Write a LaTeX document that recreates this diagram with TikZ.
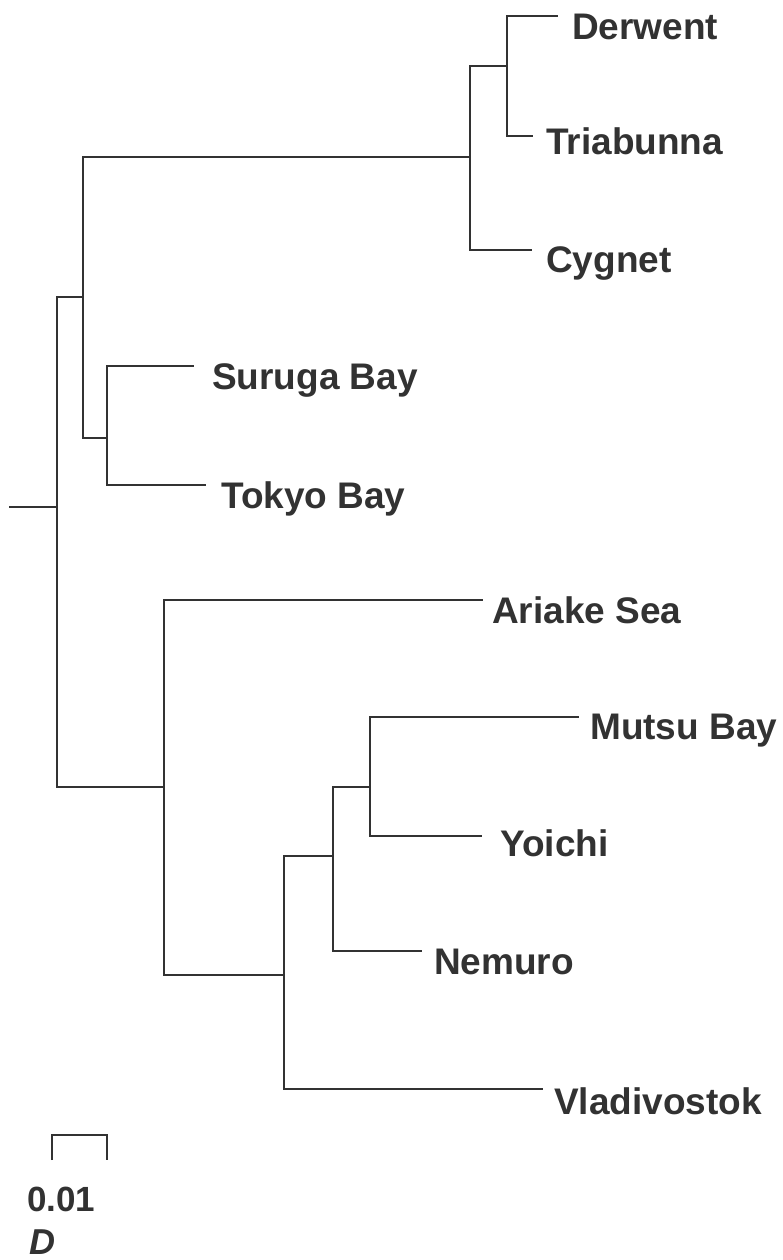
\documentclass[tikz,border=0pt]{standalone}
\usepackage{fontspec}
\setmainfont{Liberation Sans}
\definecolor{ink}{RGB}{50,50,50}
\begin{document}
\begin{tikzpicture}[x=1pt,y=-1pt,
  branch/.style={draw=ink,line width=2.4pt,line cap=rect},
  taxon/.style={anchor=base west,inner sep=0pt,text=ink,
    font=\fontsize{37}{42}\selectfont\bfseries}]
\useasboundingbox (0,0) rectangle (782,1260);

% internal nodes
\coordinate (stub) at (10,507);
\coordinate (root) at (57,507);
\coordinate (nA) at (83,297);
\coordinate (nT) at (470,157);
\coordinate (nDT) at (507,66);
\coordinate (nSJ) at (107,438);
\coordinate (nB) at (164,787);
\coordinate (nC) at (284,975);
\coordinate (nE) at (333,856);
\coordinate (nF) at (370,787);

% branch tips
\coordinate (tDer) at (557,16);
\coordinate (tTri) at (532,136);
\coordinate (tCyg) at (531,250);
\coordinate (tSur) at (193,366);
\coordinate (tTok) at (205,485);
\coordinate (tAri) at (482,600);
\coordinate (tMut) at (578,717);
\coordinate (tYoi) at (481,836);
\coordinate (tNem) at (421,951);
\coordinate (tVla) at (542,1089);

% branches
\draw[branch] (stub) -- (root);
\draw[branch] (root) |- (nA);
\draw[branch] (root) |- (nB);
\draw[branch] (nA) |- (nT);
\draw[branch] (nA) |- (nSJ);
\draw[branch] (nT) |- (nDT);
\draw[branch] (nT) |- (tCyg);
\draw[branch] (nDT) |- (tDer);
\draw[branch] (nDT) |- (tTri);
\draw[branch] (nSJ) |- (tSur);
\draw[branch] (nSJ) |- (tTok);
\draw[branch] (nB) |- (tAri);
\draw[branch] (nB) |- (nC);
\draw[branch] (nC) |- (nE);
\draw[branch] (nC) |- (tVla);
\draw[branch] (nE) |- (nF);
\draw[branch] (nE) |- (tNem);
\draw[branch] (nF) |- (tMut);
\draw[branch] (nF) |- (tYoi);

% taxon labels
\node[taxon] (lDer) at (572,40) {Derwent};
\node[taxon] (lTri) at (546,155) {Triabunna};
\node[taxon] (lCyg) at (546,272) {Cygnet};
\node[taxon] (lSur) at (212,389) {Suruga Bay};
\node[taxon] (lTok) at (221,508) {Tokyo Bay};
\node[taxon] (lAri) at (492,623) {Ariake Sea};
\node[taxon] (lMut) at (590,739) {Mutsu Bay};
\node[taxon] (lYoi) at (500,856) {Yoichi};
\node[taxon] (lNem) at (434,974) {Nemuro};
\node[taxon] (lVla) at (554,1114) {Vladivostok};

% scale bar
\coordinate (sbL) at (52,1160);
\coordinate (sbR) at (107,1160);
\draw[branch,line cap=butt] (sbL) -- ++(0,-25) -| (sbR);
\node[taxon,font=\fontsize{35}{40}\selectfont\bfseries] (sbVal) at (27,1211) {0.01};
\node[taxon,font=\fontsize{36}{40}\selectfont\bfseries\itshape] (sbUnit) at (29,1254) {D};
\end{tikzpicture}
\end{document}
